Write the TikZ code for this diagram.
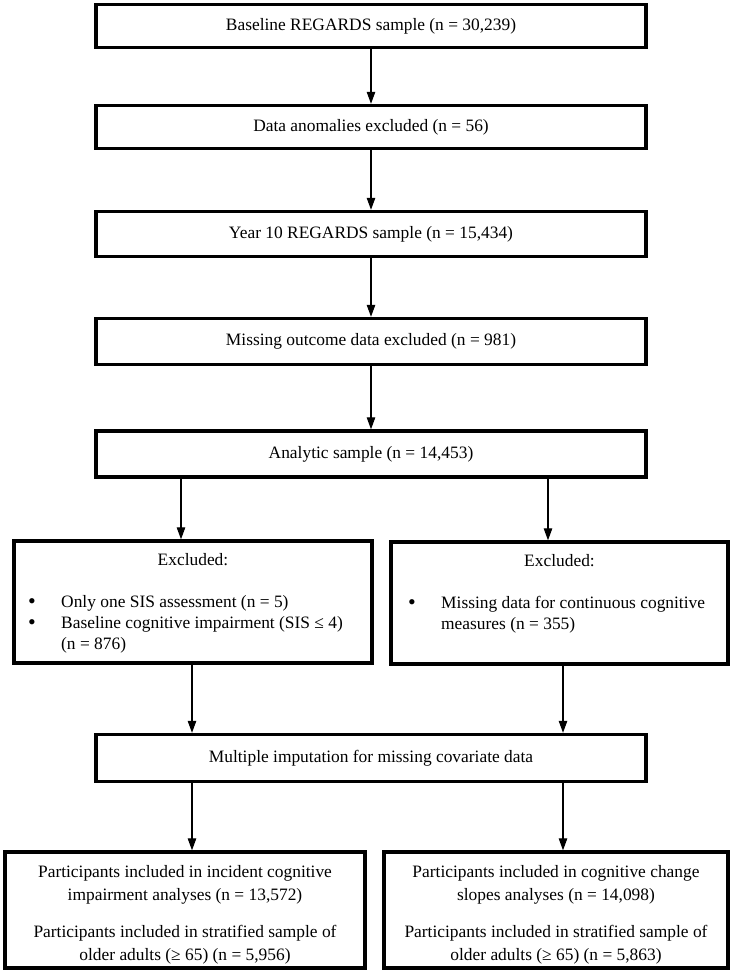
\documentclass[tikz,border=0pt]{standalone}
\usepackage{fontspec}
\setmainfont{Liberation Serif}
\usetikzlibrary{arrows.meta}
\begin{document}
\begin{tikzpicture}[x=1pt,y=-1pt,
  box/.style={draw,line width=3.4pt,inner sep=0pt},
  mainbox/.style={box,minimum width=550pt,minimum height=43pt,
    font=\fontsize{17.4}{20}\selectfont,text height=12pt,text depth=3.5pt},
  lbl/.style={font=\fontsize{17.4}{20}\selectfont,inner sep=0pt,anchor=base},
  bul/.style={font=\fontsize{22}{20}\selectfont,inner sep=0pt,anchor=base},
  arr/.style={line width=1.1pt,-{Triangle[length=12pt,width=8.5pt]}}]
\useasboundingbox (0,0) rectangle (734,975);
% main column boxes
\node[mainbox] (b1) at (371,26) {Baseline REGARDS sample (n = 30,239)};
\node[mainbox] (b2) at (371,127) {Data anomalies excluded (n = 56)};
\node[mainbox,minimum height=45pt] (b3) at (371,234) {Year 10 REGARDS sample (n = 15,434)};
\node[mainbox,minimum height=46pt] (b4) at (371,341.5) {Missing outcome data excluded (n = 981)};
\node[mainbox,minimum height=46pt] (b5) at (371,454) {Analytic sample (n = 14,453)};
% excluded boxes
\node[box,minimum width=358pt,minimum height=122pt] (el) at (193,602) {};
\node[box,minimum width=337pt,minimum height=122pt] (er) at (559.5,603) {};
\node[lbl] (elh) at (193,565) {Excluded:};
\node[lbl] (erh) at (559.5,566) {Excluded:};
\node[bul] (el1b) at (32,608) {•};
\node[lbl,anchor=base west] (el1) at (61,607) {Only one SIS assessment (n = 5)};
\node[bul] (el2b) at (32,629) {•};
\node[lbl,anchor=base west] (el2) at (61,628) {Baseline cognitive impairment (SIS ≤ 4)};
\node[lbl,anchor=base west] (el3) at (61,649) {(n = 876)};
\node[bul] (er1b) at (412,609) {•};
\node[lbl,anchor=base west] (er1) at (441,608) {Missing data for continuous cognitive};
\node[lbl,anchor=base west] (er2) at (441,629) {measures (n = 355)};
% imputation
\node[mainbox,minimum height=47pt] (b6) at (371,758) {Multiple imputation for missing covariate data};
% bottom boxes
\node[box,minimum width=360pt,minimum height=116pt] (fl) at (185,910) {};
\node[box,minimum width=344pt,minimum height=116pt] (fr) at (556,910) {};
\node[lbl] (fl1) at (185,877) {Participants included in incident cognitive};
\node[lbl] (fl2) at (185,900) {impairment analyses (n = 13,572)};
\node[lbl] (fl3) at (185,937) {Participants included in stratified sample of};
\node[lbl] (fl4) at (185,960) {older adults (≥ 65) (n = 5,956)};
\node[lbl] (fr1) at (556,877) {Participants included in cognitive change};
\node[lbl] (fr2) at (556,900) {slopes analyses (n = 14,098)};
\node[lbl] (fr3) at (556,937) {Participants included in stratified sample of};
\node[lbl] (fr4) at (556,960) {older adults (≥ 65) (n = 5,863)};
% arrows
\draw[arr] (b1.south) -- (b2.north);
\draw[arr] (b2.south) -- (b3.north);
\draw[arr] (b3.south) -- (b4.north);
\draw[arr] (b4.south) -- (b5.north);
\draw[arr] (b5.south -| 181,0) -- (el.north -| 181,0);
\draw[arr] (b5.south -| 548,0) -- (er.north -| 548,0);
\draw[arr] (el.south -| 192,0) -- (b6.north -| 192,0);
\draw[arr] (er.south -| 563,0) -- (b6.north -| 563,0);
\draw[arr] (b6.south -| 192,0) -- (fl.north -| 192,0);
\draw[arr] (b6.south -| 563,0) -- (fr.north -| 563,0);
\end{tikzpicture}
\end{document}
